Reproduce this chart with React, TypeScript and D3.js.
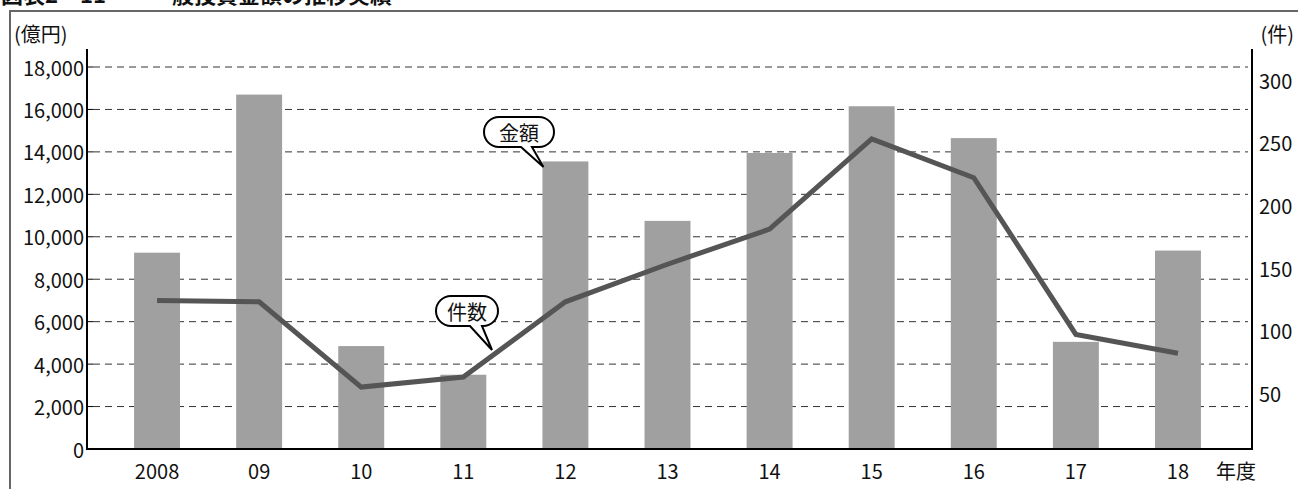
import React from 'react';
import * as d3 from 'd3';

const years = ['2008', '09', '10', '11', '12', '13', '14', '15', '16', '17', '18'];
const amounts = [9250, 16700, 4850, 3500, 13550, 10750, 13950, 16150, 14650, 5050, 9350];
const counts = [124, 123, 55, 63, 123, 153, 181, 253, 222, 97, 82];
const leftTicks = [0, 2000, 4000, 6000, 8000, 10000, 12000, 14000, 16000, 18000];
const rightTicks = [50, 100, 150, 200, 250, 300];

const W = 1298;
const H = 489;
const FONT = '"Noto Sans CJK JP", "Noto Sans", sans-serif';

const App: React.FC = () => {
  const left = 87;
  const right = 1252;
  const bottom = 449;
  const top = 49;

  const x = d3.scaleBand<string>()
    .domain(years)
    .range([106, 1229])
    .paddingInner(0.55)
    .paddingOuter(0.275);

  const yL = d3.scaleLinear().domain([0, 18000]).range([bottom, 67]);
  const yR = d3.scaleLinear().domain([0, 300]).range([456, 80]);

  const fmt = d3.format(',');
  const cx = (d: string) => (x(d) || 0) + x.bandwidth() / 2;

  const line = d3.line<number>()
    .x((_, i) => cx(years[i]))
    .y(d => yR(d));

  // speech bubble: stadium shape with a tail pointing to (tx, ty)
  const bubble = (bx: number, by: number, bw: number, bh: number, t1: number, t2: number, tx: number, ty: number) => {
    const r = bh / 2;
    const p = d3.path();
    p.moveTo(bx + r, by);
    p.lineTo(bx + bw - r, by);
    p.arc(bx + bw - r, by + r, r, -Math.PI / 2, Math.PI / 2);
    p.lineTo(t2, by + bh);
    p.lineTo(tx, ty);
    p.lineTo(t1, by + bh);
    p.lineTo(bx + r, by + bh);
    p.arc(bx + r, by + r, r, Math.PI / 2, Math.PI * 1.5);
    p.closePath();
    return p.toString();
  };

  const fs = 20;

  return (
    <div style={{ position: 'absolute', left: 0, top: 0 }}>
      <svg width={W} height={H} style={{ display: 'block', background: '#fff' }} fontFamily={FONT}>
        {/* cut-off title */}
        <text x={1} y={3} fontSize={22} fontWeight="bold" fill="#111">図表2－11</text>
        <text x={150} y={3} fontSize={22} fontWeight="bold" fill="#111">一般投資金額の推移実績</text>

        {/* frame */}
        <path d={`M10,${H} V11 H${W}`} fill="none" stroke="#666" strokeWidth={2} />

        {/* grid */}
        {leftTicks.filter(t => t > 0).map(t => (
          <line key={t} x1={left + 6} x2={right - 4} y1={yL(t)} y2={yL(t)}
            stroke="#333" strokeWidth={1} strokeDasharray="7,5" />
        ))}

        {/* bars */}
        {years.map((yr, i) => (
          <rect key={yr} x={x(yr)} y={yL(amounts[i])} width={x.bandwidth()}
            height={bottom - yL(amounts[i])} fill="#a0a0a0" />
        ))}

        {/* line */}
        <path d={line(counts) || ''} fill="none" stroke="#555" strokeWidth={5} strokeLinejoin="miter" />

        {/* axes */}
        <path d={`M${left},${top} V${bottom} H${right} V${top}`} fill="none" stroke="#000" strokeWidth={2} />
        {leftTicks.map(t => (
          <g key={t}>
            {t > 0 && <line x1={left} x2={left + 6} y1={yL(t)} y2={yL(t)} stroke="#000" strokeWidth={1} />}
            <text x={left - 3} y={yL(t)} textAnchor="end" dominantBaseline="central" fontSize={fs} fill="#111">{fmt(t)}</text>
          </g>
        ))}
        {rightTicks.map(t => (
          <text key={t} x={right + 7} y={yR(t)} dominantBaseline="central" fontSize={fs} fill="#111">{t}</text>
        ))}
        {years.map(yr => (
          <text key={yr} x={cx(yr)} y={470} textAnchor="middle" dominantBaseline="central" fontSize={fs} fill="#111">{yr}</text>
        ))}

        {/* units */}
        <text x={14} y={33} dominantBaseline="central" fontSize={fs} fill="#111">(億円)</text>
        <text x={1294} y={33} textAnchor="end" dominantBaseline="central" fontSize={fs} fill="#111">(件)</text>
        <text x={1236} y={470} textAnchor="middle" dominantBaseline="central" fontSize={fs} fill="#111">年度</text>

        {/* callouts */}
        <path d={bubble(484, 117, 70, 30, 521, 532, cx('12') - 22, 167)} fill="#fff" stroke="#000" strokeWidth={2} />
        <text x={519} y={132} textAnchor="middle" dominantBaseline="central" fontSize={fs} fill="#111">金額</text>
        <path d={bubble(436, 296, 62, 30, 470, 482, 492, 350)} fill="#fff" stroke="#000" strokeWidth={2} />
        <text x={467} y={311} textAnchor="middle" dominantBaseline="central" fontSize={fs} fill="#111">件数</text>
      </svg>
    </div>
  );
};

export default App;
